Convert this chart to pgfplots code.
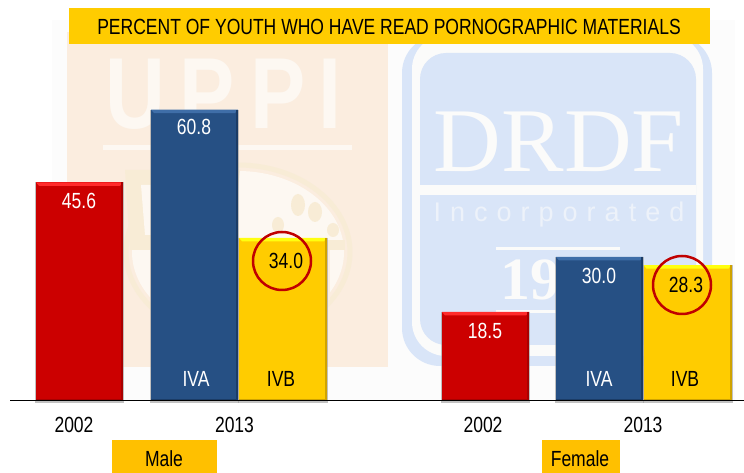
\documentclass[border=0pt]{standalone}
\usepackage{pgfplots}
\pgfplotsset{compat=1.18}
\usepackage{fontspec}
\setmainfont[FakeStretch=0.8]{Liberation Sans}
\newfontfamily\wmserif{Liberation Serif}
\newfontfamily\wmsans{Liberation Sans}
\definecolor{peach}{HTML}{FBEDDF}
\definecolor{peachw}{HTML}{FDF8F2}
\definecolor{ring}{HTML}{F8ECD6}
\definecolor{logoblue}{HTML}{D9E5F8}
\definecolor{logow}{HTML}{FBFBFA}
\definecolor{logoi}{HTML}{EDF2FA}
\definecolor{barred}{HTML}{CC0000}
\definecolor{barredt}{HTML}{FF2B2B}
\definecolor{barredd}{HTML}{A80000}
\definecolor{barblue}{HTML}{265084}
\definecolor{barbluet}{HTML}{3F6EA8}
\definecolor{barblued}{HTML}{1B3C66}
\definecolor{baryel}{HTML}{FFCC00}
\definecolor{baryelt}{HTML}{FFFF10}
\definecolor{baryeld}{HTML}{CFA300}
\newcommand{\txt}{\fontsize{21.9}{24}\selectfont}
% x centre, value, width, base, light, half width
\newcommand{\onebar}[6]{%
  \addplot[ybar,bar width=#3pt,bar shift=0pt,fill=#4,draw=none] coordinates {(#1,#2)};
  \fill[#5] ([xshift=-#6pt]axis cs:#1,#2) -- ([xshift=#6pt]axis cs:#1,#2)
     -- ([xshift=#6pt-3pt,yshift=-3.5pt]axis cs:#1,#2) -- ([xshift=-#6pt+3pt,yshift=-3.5pt]axis cs:#1,#2) -- cycle;
}
\newcommand{\edge}[4]{%
  \fill[#4] ([xshift=#3pt-2pt]axis cs:#1,#2) rectangle ([xshift=#3pt]axis cs:#1,0);
  \fill[#4] ([xshift=-#3pt,yshift=2pt]axis cs:#1,0) rectangle ([xshift=#3pt]axis cs:#1,0);
  \fill[black!40,opacity=.6] ([xshift=#3pt]axis cs:#1,#2) rectangle ([xshift=#3pt+1pt,yshift=-2pt]axis cs:#1,0);
  \fill[black!40,opacity=.6] ([xshift=-#3pt-1pt]axis cs:#1,#2) rectangle ([xshift=-#3pt,yshift=-2pt]axis cs:#1,0);
  \fill[black!40,opacity=.6] ([xshift=-#3pt,yshift=-2pt]axis cs:#1,0) rectangle ([xshift=#3pt]axis cs:#1,0);
}
\begin{document}
\begin{tikzpicture}
\useasboundingbox (0,0) rectangle (744pt,473pt);
\begin{scope}[x=1pt,y=-1pt,yshift=473pt]
  % watermark background
  \fill[black!1] (52,20) rectangle (735,400);
  \fill[peach] (67,32) rectangle (388,367);
  \node[peachw,font=\wmsans\bfseries\fontsize{101}{101}\selectfont,inner sep=0pt,xscale=.82] at (135,94) {U};
  \node[peachw,font=\wmsans\bfseries\fontsize{101}{101}\selectfont,inner sep=0pt,xscale=.82] at (207,94) {P};
  \node[peachw,font=\wmsans\bfseries\fontsize{101}{101}\selectfont,inner sep=0pt,xscale=.82] at (278,94) {P};
  \node[peachw,font=\wmsans\bfseries\fontsize{101}{101}\selectfont,inner sep=0pt,xscale=.82] at (330,94) {I};
  \fill[peachw] (103,145) rectangle (352,150);
  \draw[ring,line width=5pt] (238,252) ellipse (112 and 87);
  \fill[peachw] (238,252) ellipse (106 and 81);
  \fill[ring] (130,250) -- (125,170) -- (240,170) -- (232,250) -- cycle;
  \fill[peachw] (145,235) -- (141,185) -- (225,185) -- (218,235) -- cycle;
  \fill[ring] (298,205) ellipse (7 and 11) (315,212) ellipse (7 and 10) (278,225) ellipse (6 and 8) (333,230) ellipse (6 and 7);
  \fill[ring] (265,250) rectangle (345,240);
  \fill[peach] (150,300) rectangle (330,250);
  % DRDF logo
  \fill[logoblue,rounded corners=38pt] (402,35) rectangle (712,366);
  \fill[logow,rounded corners=34pt] (412,35) rectangle (703,356);
  \fill[logoblue,rounded corners=26pt] (420,53) rectangle (696,345);
  \fill[logow] (420,185) rectangle (696,195);
  \node[logow,font=\wmserif\fontsize{91}{91}\selectfont,inner sep=0pt,xscale=1.03] at (559,142) {DRDF};
  \node[logoi,font=\wmsans\fontsize{27}{27}\selectfont,inner sep=0pt] at (559,215) {I\,\,n\,\,c\,\,o\,\,r\,\,p\,\,o\,\,r\,\,a\,\,t\,\,e\,\,d};
  \fill[logow] (496,247) rectangle (620,250);
  \node[logow,font=\wmserif\bfseries\fontsize{60}{60}\selectfont,inner sep=0pt] at (530,280) {19};
  \fill[logow] (496,310) rectangle (620,313);
\end{scope}
\begin{axis}[
  at={(10pt,0pt)},anchor=south west,
  scale only axis,width=734pt,height=473pt,
  xmin=10,xmax=744,ymin=-15.15,ymax=83.7,
  clip=false,
  axis x line=middle,axis y line=none,
  x axis line style={-,black,line width=1pt},
  xtick={74,234.5,483,643},
  xticklabels={2002,2013,2002,2013},
  major tick length=0pt,
  xticklabel style={font=\txt,black,yshift=-13pt},
]
\onebar{79.5}{45.6}{87}{barred}{barredt}{43.5}
\edge{79.5}{45.6}{43.5}{barredd}
\onebar{194.5}{60.8}{87}{barblue}{barbluet}{43.5}
\edge{194.5}{60.8}{43.5}{barblued}
\onebar{283}{34.0}{88}{baryel}{baryelt}{44}
\edge{283}{34.0}{44}{baryeld}
\onebar{485.5}{18.5}{87}{barred}{barredt}{43.5}
\edge{485.5}{18.5}{43.5}{barredd}
\onebar{599.5}{30.0}{87}{barblue}{barbluet}{43.5}
\edge{599.5}{30.0}{43.5}{barblued}
\onebar{687.5}{28.3}{88}{baryel}{baryelt}{44}
\edge{687.5}{28.3}{44}{baryeld}
\end{axis}
\begin{scope}[x=1pt,y=-1pt,yshift=473pt,every node/.style={font=\txt,inner sep=0pt}]
  \fill[black] (10,400) rectangle (744,401);
  \node[white] at (79,201) {45.6};
  \node[white] at (194,127) {60.8};
  \node at (286,261) {34.0};
  \node[white] at (485,331) {18.5};
  \node[white] at (599,276) {30.0};
  \node at (686,285) {28.3};
  \node[white] at (196,379) {IVA};
  \node at (281,379) {IVB};
  \node[white] at (599,379) {IVA};
  \node at (685,379) {IVB};
  \draw[color={rgb,255:red,192;green,0;blue,0},line width=2.5pt] (282,261) circle (29);
  \draw[color={rgb,255:red,192;green,0;blue,0},line width=2.5pt] (682,285) circle (29);
  \fill[baryel] (69,8) rectangle (710,44);
  \node at (389,27) {PERCENT OF YOUTH WHO HAVE READ PORNOGRAPHIC MATERIALS};
  \fill[color={rgb,255:red,255;green,192;blue,0}] (112,440) rectangle (217,473);
  \node at (164,459) {Male};
  \fill[color={rgb,255:red,255;green,192;blue,0}] (542,440) rectangle (620,473);
  \node at (580,459) {Female};
\end{scope}
\end{tikzpicture}
\end{document}
